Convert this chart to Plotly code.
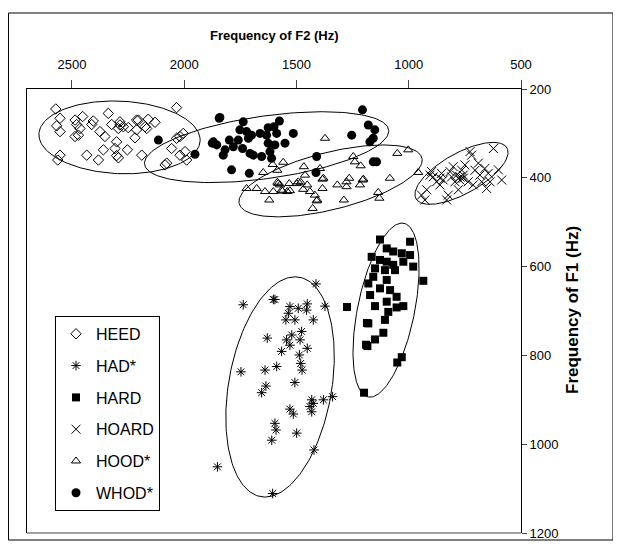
import numpy as np
import plotly.graph_objects as go

# ---------------- data (F2 Hz, F1 Hz) ----------------
heed_f2 = [2572, 2553, 2568, 2553, 2486, 2479, 2452, 2464, 2486, 2471, 2405, 2412, 2338, 2375, 2353,
           2323, 2286, 2293, 2271, 2249, 2212, 2204, 2160, 2130, 2174, 2167, 2212, 2219, 2301, 2034,
           2553, 2563, 2434, 2382, 2360, 2308, 2301, 2293, 2253, 2189, 2085, 2078, 2056, 2034, 2019,
           2004, 2019, 1989, 1996, 2286]
heed_f1 = [245, 266, 283, 296, 270, 280, 262, 289, 307, 304, 272, 280, 255, 296, 307,
           280, 281, 289, 285, 287, 270, 270, 268, 275, 285, 289, 292, 310, 319, 242,
           349, 360, 349, 360, 337, 334, 350, 355, 337, 349, 371, 367, 334, 311, 307,
           300, 349, 360, 341, 274]

had_f2 = [1737, 1603, 1596, 1413, 1373, 1529, 1492, 1452, 1455, 1536, 1547, 1507, 1425, 1630, 1521,
          1477, 1544, 1484, 1529, 1452, 1566, 1487, 1481, 1475, 1747, 1640, 1588, 1507, 1636, 1655,
          1529, 1514, 1432, 1440, 1425, 1432, 1380, 1339, 1596, 1591, 1610, 1499, 1422, 1852, 1606]
had_f1 = [686, 674, 674, 639, 689, 690, 694, 684, 698, 705, 720, 720, 720, 761, 754,
          746, 765, 765, 777, 784, 791, 799, 818, 833, 837, 833, 825, 861, 869, 884,
          921, 932, 900, 915, 908, 927, 900, 893, 953, 968, 991, 975, 1013, 1051, 1111]

hard_f2 = [1128, 994, 1098, 1069, 1031, 994, 1165, 1128, 1098, 1069, 1024, 980, 1150, 1106, 1061,
           1158, 1098, 935, 1180, 1128, 1083, 1172, 1054, 1098, 1150, 1024, 1054, 1091, 1106, 1180,
           1113, 1150, 1184, 1031, 1051, 1199, 1275, 1186, 1190]
hard_f1 = [539, 544, 559, 566, 570, 574, 578, 585, 589, 596, 589, 600, 604, 608, 608,
           623, 630, 632, 638, 649, 653, 664, 668, 679, 689, 689, 692, 702, 720, 728,
           749, 764, 779, 804, 816, 884, 691, 727, 776]

hoard_f2 = [943, 928, 920, 898, 891, 876, 861, 854, 846, 831, 824, 816, 809, 802, 794,
            787, 772, 772, 764, 757, 757, 750, 735, 727, 720, 713, 705, 690, 683, 675,
            661, 653, 646, 623, 601, 586, 905, 638, 861, 779]
hoard_f1 = [439, 450, 427, 386, 398, 409, 401, 390, 405, 450, 439, 386, 398, 375, 409,
            394, 398, 405, 383, 394, 401, 371, 409, 341, 349, 416, 383, 367, 394, 409,
            379, 424, 390, 334, 382, 405, 394, 409, 416, 427]

hood_f2 = [1373, 1648, 1606, 1559, 1585, 1722, 1677, 1640, 1621, 1603, 1585, 1573, 1562, 1541, 1532,
           1499, 1481, 1467, 1462, 1452, 1440, 1418, 1410, 1395, 1384, 1384, 1428, 1318, 1289, 1277,
           1265, 1277, 1247, 1240, 1214, 1217, 1202, 1136, 1131, 1084, 1051, 1002, 958, 1581, 1566,
           1529, 1492, 1470, 1407, 1380, 1205]
hood_f1 = [311, 388, 370, 365, 383, 424, 424, 431, 450, 431, 410, 416, 430, 431, 413,
           413, 410, 375, 394, 416, 431, 439, 452, 379, 403, 424, 469, 416, 450, 409,
           401, 420, 352, 364, 373, 416, 403, 433, 446, 401, 345, 337, 388, 413, 428,
           429, 409, 426, 450, 401, 405]

whod_f2 = [2115, 1952, 1875, 1844, 1841, 1870, 1855, 1826, 1818, 1789, 1799, 1759, 1752, 1737, 1740,
           1714, 1700, 1707, 1692, 1662, 1655, 1633, 1626, 1618, 1611, 1596, 1600, 1576, 1551, 1514,
           1710, 1410, 1413, 1254, 1206, 1180, 1151, 1158, 1173, 1158, 1143, 1722, 1781, 1588, 1626]
whod_f1 = [315, 347, 322, 266, 264, 319, 326, 349, 337, 382, 315, 315, 292, 274, 334,
           311, 304, 345, 349, 300, 352, 304, 322, 341, 356, 326, 285, 272, 322, 300,
           390, 352, 388, 304, 247, 281, 292, 311, 319, 364, 364, 296, 330, 300, 287]

series_names = ["HEED", "HAD*", "HARD", "HOARD", "HOOD*", "WHOD*"]

# ellipse parameters: centre (F2, F1) and two conjugate semi-diameters (dF2, dF1)
ell_c_f2 = [2288, 1573, 1101, 765, 1348, 1633]
ell_c_f1 = [309, 871, 698, 390, 407, 331]
ell_u_f2 = [-358, -67, -71, -198, -390, -514]
ell_u_f1 = [0, -248, -196, -30, -25, -11]
ell_v_f2 = [27, -232, -129, -62, -120, -178]
ell_v_f1 = [-82, 0, 0, -63, -77, -79]

x_ticks = [2500, 2000, 1500, 1000, 500]
y_ticks = [200, 400, 600, 800, 1000, 1200]

# ---------------- figure ----------------
SANS = "Liberation Sans, Arial, sans-serif"
styles = [
    dict(symbol="diamond-open", size=8, line=dict(width=1, color="black")),
    dict(symbol="asterisk-open", size=8, line=dict(width=1, color="black")),
    dict(symbol="square", size=8, color="black", line=dict(width=0)),
    dict(symbol="x-thin-open", size=9, line=dict(width=1, color="black")),
    dict(symbol="triangle-up-open", size=8, line=dict(width=1, color="black")),
    dict(symbol="circle", size=9, color="black", line=dict(width=0)),
]
data_x = [heed_f2, had_f2, hard_f2, hoard_f2, hood_f2, whod_f2]
data_y = [heed_f1, had_f1, hard_f1, hoard_f1, hood_f1, whod_f1]

fig = go.Figure()
t = np.linspace(0, 2 * np.pi, 200)
for i in range(6):
    ex = ell_c_f2[i] + ell_u_f2[i] * np.cos(t) + ell_v_f2[i] * np.sin(t)
    ey = ell_c_f1[i] + ell_u_f1[i] * np.cos(t) + ell_v_f1[i] * np.sin(t)
    fig.add_trace(go.Scatter(x=ex, y=ey, mode="lines", line=dict(color="black", width=1),
                             showlegend=False, hoverinfo="skip"))

for i in range(6):
    st = dict(styles[i])
    if "color" not in st:
        st["color"] = "black"
    fig.add_trace(go.Scatter(x=data_x[i], y=data_y[i], mode="markers", name=series_names[i],
                             marker=st, legendgroup=series_names[i]))

fig.update_layout(
    width=613, height=542,
    margin=dict(l=19, r=100, t=81, b=17),
    paper_bgcolor="white", plot_bgcolor="white",
    font=dict(family=SANS, size=13, color="black"),
    showlegend=True,
    legend=dict(x=0.0567, y=0.489, xanchor="left", yanchor="top",
                bordercolor="black", borderwidth=1, bgcolor="white",
                font=dict(family=SANS, size=16, color="black"),
                tracegroupgap=8, itemwidth=30),
    xaxis=dict(range=[2700, 500], side="top", tickvals=x_ticks, ticks="outside", ticklen=8,
               ticklabelstandoff=6,
               showline=True, mirror=False, linecolor="black", linewidth=1, showgrid=False,
               zeroline=False, automargin=False, tickfont=dict(family=SANS, size=13)),
    yaxis=dict(range=[1200, 200], side="right", tickvals=y_ticks, ticks="outside", ticklen=5,
               showline=True, mirror=True, linecolor="black", linewidth=1, showgrid=False,
               zeroline=False, automargin=False, tickfont=dict(family=SANS, size=13)),
    annotations=[
        dict(text="<b>Frequency of F2 (Hz)</b>", xref="paper", yref="paper", x=0.5, y=1.1216,
             xanchor="center", yanchor="middle", showarrow=False,
             font=dict(family=SANS, size=13)),
        dict(text="<b>Frequency of F1 (Hz)</b>", xref="paper", yref="paper", x=1.103, y=0.502,
             xanchor="center", yanchor="middle", showarrow=False, textangle=-90,
             font=dict(family=SANS, size=17)),
    ],
    shapes=[
        dict(type="rect", xref="paper", yref="paper", x0=-0.0375, x1=1.1862, y0=-0.0158,
             y1=1.1712, line=dict(color="black", width=1), layer="below"),
        dict(type="line", xref="paper", yref="paper", x0=0, x1=1, y0=0, y1=0,
             line=dict(color="#808080", width=1.5), layer="above"),
    ],
)

fig.write_html("out.html")
